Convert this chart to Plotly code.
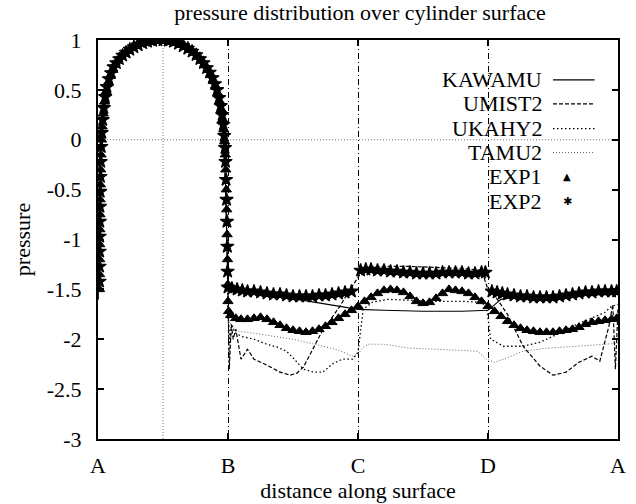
import plotly.graph_objects as go

# ---------------- data ----------------
tick_vals = [0, 1, 2, 3, 4]
tick_text = ["A", "B", "C", "D", "A"]
y_ticks = [1, 0.5, 0, -0.5, -1, -1.5, -2, -2.5, -3]
y_tick_text = ["1", "0.5", "0", "-0.5", "-1", "-1.5", "-2", "-2.5", "-3"]

# experiment 1 (triangles)
exp1_x = [0.012, 0.012, 0.013, 0.013, 0.014, 0.015, 0.016, 0.018, 0.020, 0.023, 0.027, 0.032, 0.040,
          0.050, 0.062, 0.076, 0.092, 0.110, 0.130, 0.152, 0.176, 0.202, 0.230, 0.260, 0.292, 0.326,
          0.362, 0.400, 0.440, 0.480, 0.520, 0.560, 0.600, 0.638, 0.674, 0.708, 0.740, 0.770, 0.798,
          0.824, 0.848, 0.870, 0.890, 0.908, 0.924, 0.938, 0.950, 0.960, 0.968, 0.974, 0.979, 0.983,
          0.987, 0.990, 0.993, 0.996, 0.999, 1.000, 1.005,
          1.02, 1.06, 1.10, 1.15, 1.20, 1.25, 1.30, 1.35, 1.40, 1.45, 1.50, 1.55, 1.60, 1.65, 1.70,
          1.75, 1.80, 1.85, 1.90, 1.95, 2.00,
          2.05, 2.10, 2.15, 2.20, 2.25, 2.30, 2.35, 2.40, 2.45, 2.50, 2.55, 2.60, 2.65, 2.70, 2.75,
          2.80, 2.85, 2.90, 2.95, 3.00,
          3.05, 3.10, 3.15, 3.20, 3.25, 3.30, 3.35, 3.40, 3.45, 3.50, 3.55, 3.60, 3.65, 3.70, 3.75,
          3.80, 3.85, 3.90, 3.95, 3.99]
exp1_cp = [-1.50, -1.35, -1.20, -1.05, -0.90, -0.75, -0.60, -0.45, -0.30, -0.15, 0.00, 0.13, 0.26,
           0.38, 0.48, 0.57, 0.64, 0.70, 0.75, 0.79, 0.83, 0.86, 0.89, 0.92, 0.94, 0.96,
           0.975, 0.99, 0.997, 1.00, 1.00, 0.99, 0.975, 0.955, 0.93, 0.90, 0.87, 0.83, 0.79,
           0.745, 0.70, 0.65, 0.59, 0.53, 0.46, 0.38, 0.30, 0.20, 0.10, -0.02, -0.15, -0.30,
           -0.50, -0.70, -0.95, -1.20, -1.45, -1.62, -1.72,
           -1.76, -1.79, -1.80, -1.80, -1.79, -1.78, -1.80, -1.83, -1.86, -1.89, -1.91, -1.92, -1.93,
           -1.92, -1.90, -1.87, -1.83, -1.79, -1.75, -1.71, -1.67,
           -1.62, -1.58, -1.54, -1.51, -1.50, -1.51, -1.53, -1.57, -1.62, -1.64, -1.63, -1.59, -1.54,
           -1.50, -1.51, -1.52, -1.54, -1.58, -1.62, -1.67,
           -1.72, -1.77, -1.82, -1.86, -1.89, -1.91, -1.92, -1.93, -1.93, -1.93, -1.92, -1.91, -1.90,
           -1.88, -1.85, -1.83, -1.82, -1.81, -1.80, -1.79]

# experiment 2 (stars)
exp2_x = [0.012, 0.012, 0.013, 0.013, 0.014, 0.015, 0.017, 0.019, 0.021, 0.025, 0.029, 0.036, 0.045,
          0.056, 0.069, 0.084, 0.101, 0.120, 0.141, 0.164, 0.189, 0.216, 0.245, 0.276, 0.309, 0.344,
          0.381, 0.420, 0.460, 0.500, 0.540, 0.580, 0.619, 0.656, 0.691, 0.724, 0.755, 0.784, 0.811,
          0.836, 0.859, 0.880, 0.899, 0.916, 0.931, 0.944, 0.955, 0.964, 0.971, 0.977, 0.981, 0.985,
          0.989, 0.992, 0.995, 0.997, 1.000,
          1.03, 1.07, 1.11, 1.15, 1.20, 1.25, 1.30, 1.35, 1.40, 1.45, 1.50, 1.55, 1.60, 1.65, 1.70,
          1.75, 1.80, 1.85, 1.90, 1.95,
          2.02, 2.06, 2.10, 2.15, 2.20, 2.25, 2.30, 2.35, 2.40, 2.45, 2.50, 2.55, 2.60, 2.65, 2.70,
          2.75, 2.80, 2.85, 2.90, 2.95, 2.98,
          3.03, 3.07, 3.11, 3.15, 3.20, 3.25, 3.30, 3.35, 3.40, 3.45, 3.50, 3.55, 3.60, 3.65, 3.70,
          3.75, 3.80, 3.85, 3.90, 3.95, 3.99]
exp2_cp = [-1.42, -1.27, -1.12, -0.97, -0.82, -0.67, -0.52, -0.37, -0.22, -0.07, 0.07, 0.20, 0.32,
           0.43, 0.53, 0.61, 0.67, 0.73, 0.77, 0.81, 0.845, 0.875, 0.905, 0.93, 0.95, 0.97,
           0.985, 0.995, 1.00, 1.00, 0.995, 0.985, 0.965, 0.94, 0.915, 0.885, 0.85, 0.81, 0.77,
           0.72, 0.675, 0.62, 0.56, 0.50, 0.42, 0.34, 0.25, 0.15, 0.04, -0.08, -0.22, -0.40,
           -0.60, -0.82, -1.07, -1.32, -1.48,
           -1.49, -1.50, -1.51, -1.52, -1.52, -1.53, -1.54, -1.55, -1.55, -1.56, -1.57, -1.57, -1.57,
           -1.57, -1.56, -1.56, -1.55, -1.54, -1.53, -1.52,
           -1.31, -1.30, -1.30, -1.31, -1.31, -1.32, -1.32, -1.33, -1.33, -1.34, -1.34, -1.34, -1.34,
           -1.33, -1.33, -1.33, -1.33, -1.34, -1.34, -1.33, -1.33,
           -1.52, -1.53, -1.54, -1.55, -1.56, -1.57, -1.57, -1.58, -1.58, -1.58, -1.58, -1.57, -1.56,
           -1.55, -1.54, -1.53, -1.53, -1.52, -1.52, -1.52, -1.52]

# computations: common front-face (A-B) curve shared by all models
ab_x = [0.0, 0.01, 0.02, 0.04, 0.08, 0.15, 0.25, 0.38, 0.5, 0.62, 0.75, 0.85, 0.92, 0.96, 0.98, 0.995]
ab_model_cp = [-1.6, -0.8, -0.1, 0.35, 0.62, 0.8, 0.91, 0.98, 1.0, 0.97, 0.87, 0.7, 0.48, 0.15, -0.4, -1.2]

kawamu_x = [1.0, 1.3, 1.63, 2.0, 2.2, 2.5, 2.8, 3.0, 3.1, 3.3, 3.5, 3.8, 4.0]
kawamu_cp = [-1.49, -1.55, -1.62, -1.70, -1.71, -1.72, -1.72, -1.71, -1.60, -1.56, -1.56, -1.55, -1.55]

umist2_x = [1.0, 1.01, 1.025, 1.04, 1.06, 1.10, 1.15, 1.20, 1.30, 1.40, 1.48, 1.53, 1.58, 1.65, 1.72,
            1.79, 1.86, 1.93, 2.0, 2.05, 2.2, 2.4, 2.6, 2.8, 2.95, 3.0, 3.05, 3.15, 3.27, 3.4, 3.5,
            3.6, 3.7, 3.8, 3.86, 3.93, 3.96, 3.98, 4.0]
umist2_cp = [-1.75, -2.3, -1.85, -2.0, -1.9, -2.2, -2.1, -2.2, -2.26, -2.33, -2.36, -2.34, -2.28, -2.1,
             -1.93, -1.8, -1.67, -1.52, -1.38, -1.28, -1.27, -1.27, -1.28, -1.29, -1.31, -1.5, -1.56,
             -1.75, -2.07, -2.27, -2.36, -2.33, -2.23, -2.17, -2.22, -1.87, -1.65, -2.3, -1.7]

ukahy2_x = [1.0, 1.015, 1.03, 1.05, 1.10, 1.20, 1.30, 1.38, 1.45, 1.51, 1.58, 1.66, 1.73, 1.80, 1.88,
            1.96, 2.0, 2.04, 2.11, 2.23, 2.4, 2.6, 2.8, 2.95, 2.99, 3.02, 3.12, 3.27, 3.4, 3.5, 3.65,
            3.78, 3.9, 3.95, 4.0]
ukahy2_cp = [-1.75, -2.05, -1.85, -1.93, -1.97, -2.0, -2.05, -2.08, -2.12, -2.2, -2.3, -2.33, -2.33,
             -2.25, -2.2, -2.2, -2.13, -1.7, -1.63, -1.60, -1.61, -1.62, -1.62, -1.63, -1.68, -2.0,
             -2.07, -2.07, -2.03, -1.97, -1.87, -1.8, -1.73, -1.67, -1.65]

tamu2_x = [1.0, 1.03, 1.08, 1.15, 1.3, 1.5, 1.7, 1.85, 1.96, 2.0, 2.04, 2.08, 2.2, 2.4, 2.6, 2.8,
           2.92, 2.99, 3.05, 3.12, 3.27, 3.45, 3.6, 3.8, 3.9, 4.0]
tamu2_cp = [-1.75, -1.88, -1.92, -1.93, -1.96, -2.0, -2.06, -2.11, -2.17, -2.15, -2.08, -2.05, -2.05,
            -2.09, -2.1, -2.11, -2.12, -2.2, -2.23, -2.2, -2.12, -2.09, -2.08, -2.06, -2.05, -2.04]

series_names = ["KAWAMU", "UMIST2", "UKAHY2", "TAMU2", "EXP1", "EXP2"]

# ---------------- styling ----------------
FONT = "Liberation Serif"
FS = 22
line_styles = {
    "KAWAMU": dict(color="black", width=1.1, dash="solid"),
    "UMIST2": dict(color="black", width=1.2, dash="4px,2px"),
    "UKAHY2": dict(color="black", width=1.3, dash="1.5px,2.5px"),
    "TAMU2": dict(color="#666666", width=1.0, dash="1px,2px"),
}

fig = go.Figure()

model_data = {
    "KAWAMU": (kawamu_x, kawamu_cp),
    "UMIST2": (umist2_x, umist2_cp),
    "UKAHY2": (ukahy2_x, ukahy2_cp),
    "TAMU2": (tamu2_x, tamu2_cp),
}
for name in ["TAMU2", "UKAHY2", "UMIST2", "KAWAMU"]:
    xs, ys = model_data[name]
    fig.add_trace(go.Scatter(x=ab_x + xs, y=ab_model_cp + ys, mode="lines", name=name,
                             line=line_styles[name], showlegend=False))

fig.add_trace(go.Scatter(x=exp1_x, y=exp1_cp, mode="markers", name="EXP1", showlegend=False,
                         marker=dict(symbol="triangle-up", size=9, color="black",
                                     line=dict(width=1, color="black"))))
fig.add_trace(go.Scatter(x=exp2_x, y=exp2_cp, mode="markers", name="EXP2", showlegend=False,
                         marker=dict(symbol="star", size=10, color="black",
                                     line=dict(width=1.2, color="black"))))

# reference guide lines (stagnation point and zero pressure)
shapes = [
    dict(type="line", xref="x", yref="paper", x0=0.5, x1=0.5, y0=0, y1=1,
         line=dict(color="#777777", width=1, dash="1px,2px"), layer="below"),
    dict(type="line", xref="paper", yref="y", x0=0, x1=1, y0=0, y1=0,
         line=dict(color="#777777", width=1, dash="1px,2px"), layer="below"),
]

# custom legend (text right-aligned, sample on the right)
leg_text_x = 0.858
leg_s0, leg_s1 = 0.875, 0.955
leg_y = [0.900, 0.840, 0.778, 0.718, 0.658, 0.595]
annotations = []
for i, name in enumerate(series_names):
    annotations.append(dict(x=leg_text_x, y=leg_y[i], xref="paper", yref="paper", text=name,
                            showarrow=False, xanchor="right", yanchor="middle",
                            font=dict(family=FONT, size=FS, color="black")))
    if name in line_styles:
        st = line_styles[name]
        shapes.append(dict(type="line", xref="paper", yref="paper", x0=leg_s0, x1=leg_s1,
                           y0=leg_y[i], y1=leg_y[i],
                           line=dict(color=st["color"], width=st["width"], dash=st["dash"])))
annotations.append(dict(x=0.902, y=leg_y[4], xref="paper", yref="paper", text="▲",
                        showarrow=False, xanchor="center", yanchor="middle",
                        font=dict(family="DejaVu Sans", size=10, color="black")))
annotations.append(dict(x=0.902, y=leg_y[5], xref="paper", yref="paper", text="✱",
                        showarrow=False, xanchor="center", yanchor="middle",
                        font=dict(family="DejaVu Sans", size=11, color="black")))

fig.update_layout(
    width=636, height=504,
    margin=dict(l=98, r=10, t=40, b=64),
    paper_bgcolor="white", plot_bgcolor="white",
    font=dict(family=FONT, size=FS, color="black"),
    title=dict(text="pressure distribution over cylinder surface", x=0.504, xref="paper",
               xanchor="center", y=0.976, yanchor="middle",
               font=dict(family=FONT, size=FS, color="black")),
    shapes=shapes,
    annotations=annotations,
    showlegend=False,
)
fig.update_xaxes(
    range=[0, 4], tickmode="array", tickvals=tick_vals, ticktext=tick_text,
    ticks="inside", ticklen=6, tickwidth=1.5, tickcolor="black",
    showline=True, linewidth=2, linecolor="black", mirror="ticks",
    showgrid=True, gridcolor="black", gridwidth=1, griddash="6px,3px,1px,3px",
    zeroline=False, ticklabelstandoff=6,
    title=dict(text="distance along surface", standoff=0, font=dict(family=FONT, size=FS)),
    tickfont=dict(family=FONT, size=FS),
)
fig.update_yaxes(
    range=[-3, 1], tickmode="array", tickvals=y_ticks, ticktext=y_tick_text,
    ticks="inside", ticklen=6, tickwidth=1.5, tickcolor="black",
    showline=True, linewidth=2, linecolor="black", mirror="ticks",
    showgrid=False, zeroline=False, ticklabelstandoff=10,
    title=dict(text="pressure", standoff=10, font=dict(family=FONT, size=FS)),
    tickfont=dict(family=FONT, size=FS),
)

fig.write_html("out.html")
